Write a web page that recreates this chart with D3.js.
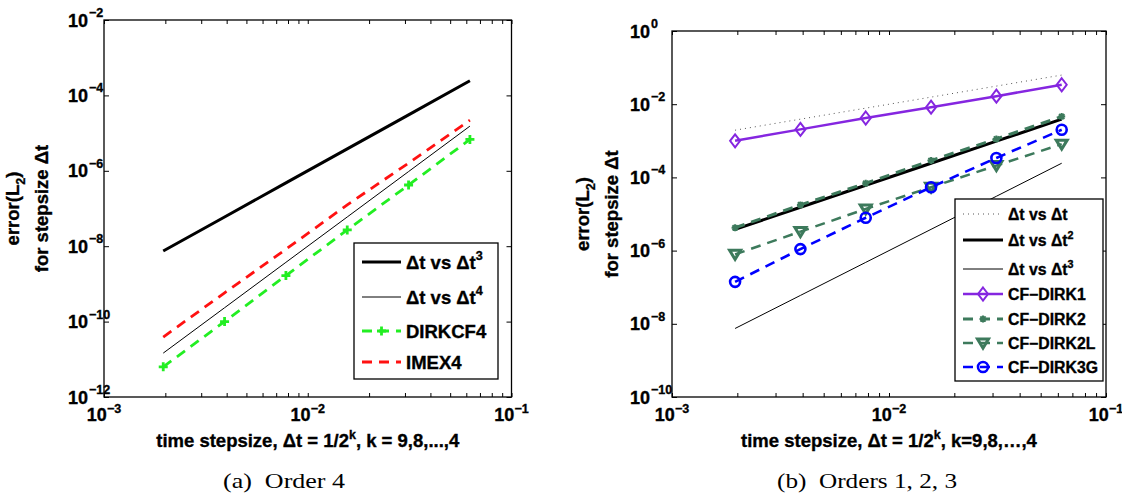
<!DOCTYPE html>
<html>
<head>
<meta charset="utf-8">
<script src="https://cdn.jsdelivr.net/npm/d3@7/dist/d3.min.js"></script>
<style>
    body { margin: 0; background: #fff; }
    svg text { font-family: Arial, "Liberation Sans", Helvetica, sans-serif; font-weight: 700; fill: #000; stroke: #000; stroke-width: 0.35px; }
    svg text.caption { font-family: "Liberation Serif", "Times New Roman", serif; font-weight: 400; stroke: none; }
</style>
</head>
<body>
<svg id="chart" width="1122" height="494"></svg>
<script>
// time step sizes, dt = 1/2^k for k = 9..4
const stepSizes = [0.001953125, 0.00390625, 0.0078125, 0.015625, 0.03125, 0.0625];

// panel (a): order 4
const leftYTicks = [1e-12, 1e-10, 1e-8, 1e-6, 1e-4, 1e-2];
const leftRefCubic = [7.45e-9, 5.96e-8, 4.77e-7, 3.81e-6, 3.05e-5, 2.44e-4];
const leftRefQuartic = [1.46e-11, 2.33e-10, 3.73e-9, 5.96e-8, 9.54e-7, 1.53e-5];
const dirkcf4 = [6.3e-12, 1.0e-10, 1.66e-9, 2.7e-8, 4.2e-7, 6.8e-6];
const imex4 = [3.9e-11, 5.8e-10, 8.3e-9, 1.25e-7, 1.6e-6, 2.2e-5];

// panel (b): orders 1, 2, 3
const rightYTicks = [1e-10, 1e-8, 1e-6, 1e-4, 1e-2, 1e0];
const rightRefLinear = [0.00195, 0.0039, 0.0078, 0.0156, 0.03125, 0.0625];
const rightRefQuadratic = [3.81e-6, 1.53e-5, 6.1e-5, 2.44e-4, 9.77e-4, 3.91e-3];
const rightRefCubic = [7.45e-9, 5.96e-8, 4.77e-7, 3.81e-6, 3.05e-5, 2.44e-4];
const cfDirk1 = [1.0e-3, 2.05e-3, 4.2e-3, 8.3e-3, 1.66e-2, 3.4e-2];
const cfDirk2 = [4.2e-6, 1.77e-5, 6.9e-5, 2.9e-4, 1.12e-3, 4.6e-3];
const cfDirk2L = [7.9e-7, 3.3e-6, 1.38e-5, 5.4e-5, 2.1e-4, 8.1e-4];
const cfDirk3G = [1.4e-7, 1.1e-6, 7.9e-6, 5.4e-5, 3.4e-4, 2.0e-3];

const xMajor = [1e-3, 1e-2, 1e-1];

const svg = d3.select("#chart");

// append tspans for text with superscripts / subscripts
function richText(sel, parts, size, smallSize) {
    let shift = 0;
    parts.forEach(p => {
        const target = p.sup ? -size * 0.45 : (p.sub ? size * 0.3 : 0);
        const ts = sel.append("tspan").text(p.t).attr("dy", target - shift);
        if (p.sup || p.sub) ts.attr("font-size", smallSize);
        shift = target;
    });
}

function drawMarker(g, type, cx, cy, color) {
    if (type === "plus") {
        g.append("path").attr("d", `M${cx - 4.5},${cy}H${cx + 4.5}M${cx},${cy - 4.5}V${cy + 4.5}`)
            .attr("stroke", color).attr("stroke-width", 2.8).attr("fill", "none");
    } else if (type === "diamond") {
        g.append("path").attr("d", `M${cx},${cy - 6.5}L${cx + 5},${cy}L${cx},${cy + 6.5}L${cx - 5},${cy}Z`)
            .attr("stroke", color).attr("stroke-width", 2).attr("fill", "none");
    } else if (type === "star") {
        const r = 3.5, d = 2.6;
        g.append("path").attr("d", `M${cx - r},${cy}H${cx + r}M${cx},${cy - r}V${cy + r}` +
            `M${cx - d},${cy - d}L${cx + d},${cy + d}M${cx - d},${cy + d}L${cx + d},${cy - d}`)
            .attr("stroke", color).attr("stroke-width", 2).attr("fill", "none");
    } else if (type === "tridown") {
        g.append("path").attr("d", `M${cx - 5.5},${cy - 4}L${cx + 5.5},${cy - 4}L${cx},${cy + 5}Z`)
            .attr("stroke", color).attr("stroke-width", 3).attr("fill", "none").attr("stroke-linejoin", "miter");
    } else if (type === "circle") {
        g.append("circle").attr("cx", cx).attr("cy", cy).attr("r", 5)
            .attr("stroke", color).attr("stroke-width", 2.6).attr("fill", "none");
    }
}

function drawPanel(cfg) {
    const x = d3.scaleLog().domain([1e-3, 1e-1]).range([cfg.left, cfg.right]);
    const y = d3.scaleLog().domain([cfg.yTicks[0], cfg.yTicks[cfg.yTicks.length - 1]]).range([cfg.bottom, cfg.top]);
    const g = svg.append("g");

    // inward ticks on all four sides
    const xTicks = x.ticks();
    const axes = [
        [d3.axisBottom(x).tickValues(xTicks), `translate(0,${cfg.bottom})`, -4],
        [d3.axisTop(x).tickValues(xTicks), `translate(0,${cfg.top})`, -4],
        [d3.axisLeft(y).tickValues(cfg.yTicks), `translate(${cfg.left},0)`, -5],
        [d3.axisRight(y).tickValues(cfg.yTicks), `translate(${cfg.right},0)`, -5]
    ];
    axes.forEach(([axis, tr, size]) => {
        const a = g.append("g").attr("transform", tr)
            .call(axis.tickSize(size).tickFormat(""));
        a.select(".domain").remove();
        a.selectAll("line").attr("stroke", "#000").attr("stroke-width", 1);
    });

    g.append("rect")
        .attr("x", cfg.left).attr("y", cfg.top)
        .attr("width", cfg.right - cfg.left).attr("height", cfg.bottom - cfg.top)
        .attr("fill", "none").attr("stroke", "#000").attr("stroke-width", 1.3);

    // x tick labels
    xMajor.forEach(v => {
        const t = g.append("text").attr("x", x(v)).attr("y", cfg.bottom + 24)
            .attr("text-anchor", "middle").attr("font-size", 18);
        richText(t, [{ t: "10" }, { t: "\u2212" + Math.round(-Math.log10(v)), sup: true }], 18, 12.5);
    });
    // y tick labels
    cfg.yTicks.forEach(v => {
        const e = Math.round(Math.log10(v));
        g.append("text").attr("x", cfg.yLabelX).attr("y", y(v) + 6.5)
            .attr("text-anchor", "end").attr("font-size", 18).text("10");
        g.append("text").attr("x", cfg.yLabelX + 1).attr("y", y(v) - 3)
            .attr("font-size", 12.5).text(e === 0 ? "0" : "\u2212" + (-e));
    });

    // axis titles
    const xt = g.append("text").attr("x", (cfg.left + cfg.right) / 2).attr("y", cfg.bottom + 50)
        .attr("text-anchor", "middle").attr("font-size", 18.5);
    richText(xt, cfg.xTitle, 18.5, 12.5);

    const yc = (cfg.top + cfg.bottom) / 2;
    const yt1 = g.append("text").attr("transform", `translate(${cfg.yTitleX[0]},${yc}) rotate(-90)`)
        .attr("text-anchor", "middle").attr("font-size", 18.5);
    richText(yt1, [{ t: "error(L" }, { t: "2", sub: true }, { t: ")" }], 18.5, 12.5);
    g.append("text").attr("transform", `translate(${cfg.yTitleX[1]},${yc}) rotate(-90)`)
        .attr("text-anchor", "middle").attr("font-size", 18.5).text("for stepsize \u0394t");

    // series
    const line = d3.line().x(d => x(d[0])).y(d => y(d[1]));
    cfg.series.forEach(s => {
        const pts = stepSizes.map((dt, i) => [dt, s.values[i]]);
        g.append("path").attr("d", line(pts))
            .attr("fill", "none").attr("stroke", s.color).attr("stroke-width", s.width)
            .attr("stroke-dasharray", s.dash || null);
        if (s.marker) pts.forEach(p => drawMarker(g, s.marker, x(p[0]), y(p[1]), s.color));
    });

    // legend
    const L = cfg.legend;
    g.append("rect").attr("x", L.x0).attr("y", L.y0)
        .attr("width", L.x1 - L.x0).attr("height", L.y1 - L.y0)
        .attr("fill", "#fff").attr("stroke", "#000").attr("stroke-width", 1.3);
    cfg.series.forEach((s, i) => {
        const ly = L.rows[i];
        g.append("line").attr("x1", L.lineX[0]).attr("x2", L.lineX[1]).attr("y1", ly).attr("y2", ly)
            .attr("stroke", s.color).attr("stroke-width", s.width)
            .attr("stroke-dasharray", s.dash || null);
        if (s.marker) drawMarker(g, s.marker, (L.lineX[0] + L.lineX[1]) / 2, ly, s.color);
        const t = g.append("text").attr("x", L.textX).attr("y", ly + L.fontSize * 0.36)
            .attr("font-size", L.fontSize);
        richText(t, s.label, L.fontSize, L.fontSize * 0.68);
    });

    // caption
    svg.append("text").attr("class", "caption")
        .attr("x", cfg.caption.x).attr("y", 488)
        .attr("font-size", 21)
        .attr("textLength", cfg.caption.w).attr("lengthAdjust", "spacingAndGlyphs")
        .text(cfg.caption.text);
}

drawPanel({
    left: 104, right: 511.5, top: 20, bottom: 397,
    yTicks: leftYTicks, yLabelX: 88, yTitleX: [19, 48],
    xTitle: [{ t: "time stepsize, \u0394t = 1/2" }, { t: "k", sup: true }, { t: ", k = 9,8,...,4" }],
    series: [
        { values: leftRefCubic, color: "#000", width: 3, label: [{ t: "\u0394t vs \u0394t" }, { t: "3", sup: true }] },
        { values: leftRefQuartic, color: "#000", width: 1, label: [{ t: "\u0394t vs \u0394t" }, { t: "4", sup: true }] },
        { values: dirkcf4, color: "#22ee22", width: 2.8, dash: "10,7", marker: "plus", label: [{ t: "DIRKCF4" }] },
        { values: imex4, color: "#ff1111", width: 2.8, dash: "10,7", label: [{ t: "IMEX4" }] }
    ],
    legend: { x0: 354, x1: 498, y0: 243, y1: 379, rows: [262, 297, 331, 362], lineX: [362, 401], textX: 406, fontSize: 18.5 },
    caption: { x: 223, w: 122, text: "(a)\u00a0\u00a0Order 4" }
});

drawPanel({
    left: 672, right: 1106, top: 31, bottom: 397,
    yTicks: rightYTicks, yLabelX: 650, yTitleX: [589, 618],
    xTitle: [{ t: "time stepsize, \u0394t = 1/2" }, { t: "k", sup: true }, { t: ", k=9,8,\u2026,4" }],
    series: [
        { values: rightRefLinear, color: "#555", width: 1, dash: "1,4", label: [{ t: "\u0394t vs \u0394t" }] },
        { values: rightRefQuadratic, color: "#000", width: 3, label: [{ t: "\u0394t vs \u0394t" }, { t: "2", sup: true }] },
        { values: rightRefCubic, color: "#000", width: 1, label: [{ t: "\u0394t vs \u0394t" }, { t: "3", sup: true }] },
        { values: cfDirk1, color: "#8526e0", width: 2.5, marker: "diamond", label: [{ t: "CF\u2212DIRK1" }] },
        { values: cfDirk2, color: "#3d7a5c", width: 3, dash: "10,7", marker: "star", label: [{ t: "CF\u2212DIRK2" }] },
        { values: cfDirk2L, color: "#3d7a5c", width: 2.5, dash: "10,7", marker: "tridown", label: [{ t: "CF\u2212DIRK2L" }] },
        { values: cfDirk3G, color: "#0000ff", width: 2.6, dash: "10,7", marker: "circle", label: [{ t: "CF\u2212DIRK3G" }] }
    ],
    legend: { x0: 955, x1: 1103, y0: 199, y1: 381, rows: [214, 240, 269, 294, 319, 343, 367], lineX: [963, 1003], textX: 1008, fontSize: 15.8 },
    caption: { x: 777, w: 180, text: "(b)\u00a0\u00a0Orders 1, 2, 3" }
});
</script>
</body>
</html>
